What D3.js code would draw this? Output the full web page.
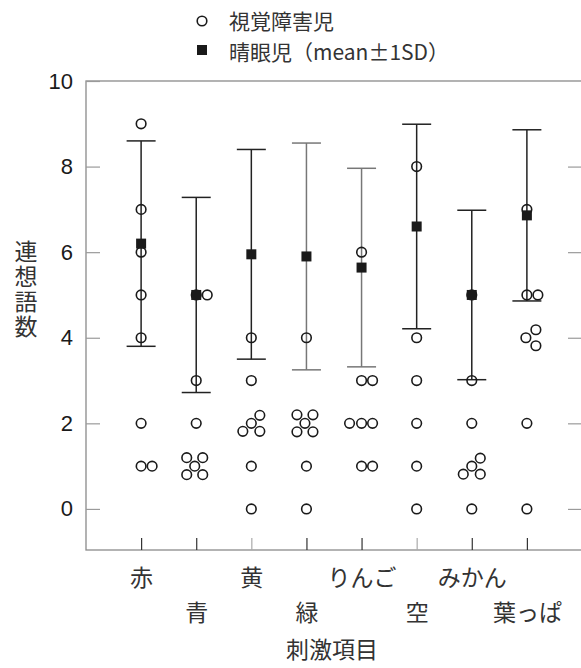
<!DOCTYPE html>
<html>
<head>
<meta charset="utf-8">
<script src="https://cdn.jsdelivr.net/npm/d3@7"></script>
<style>
  body { margin: 0; background: #fff; }
  svg { display: block; }
</style>
</head>
<body>
<svg id="chart" width="581" height="668"></svg>
<script>
const categories = ['赤', '青', '黄', '緑', 'りんご', '空', 'みかん', '葉っぱ'];

// 晴眼児 (mean ± 1SD)
const sightedMean = [6.2, 5.0, 5.95, 5.9, 5.64, 6.6, 5.0, 6.86];
const sightedSD = [2.4, 2.28, 2.45, 2.65, 2.32, 2.39, 1.98, 2.0];

// 視覚障害児 individual scores
const blindScores = [
    [9, 7, 6, 5, 4, 2, 1, 1],
    [5, 5, 3, 2, 1, 1, 1, 1, 1],
    [4, 3, 2, 2, 2, 2, 1, 0],
    [4, 2, 2, 2, 2, 2, 1, 0],
    [6, 3, 3, 2, 2, 2, 1, 1],
    [8, 4, 3, 2, 1, 0],
    [5, 3, 2, 1, 1, 1, 1, 0],
    [7, 5, 5, 4, 4, 4, 2, 0]
];

const yTicks = [0, 2, 4, 6, 8, 10];
const legendLabels = ['視覚障害児', '晴眼児（mean±1SD）'];

const font = '"Noto Sans CJK JP", "Noto Sans", sans-serif';
const numFont = '"Liberation Sans", Arial, sans-serif';

const svg = d3.select('#chart');

const plotLeft = 86, plotRight = 582, plotTop = 81, plotBottom = 550;

const x = d3.scalePoint()
    .domain(categories)
    .range([plotLeft, plotRight])
    .padding(1);

const y = d3.scaleLinear()
    .domain([-0.96, 10])
    .range([plotBottom, plotTop]);

// frame
svg.append('rect')
    .attr('x', plotLeft)
    .attr('y', plotTop)
    .attr('width', plotRight - plotLeft)
    .attr('height', plotBottom - plotTop)
    .attr('fill', 'none')
    .attr('stroke', '#8a8a8a')
    .attr('stroke-width', 1.3);

// y axis, ticks pointing inward
const yAxis = svg.append('g')
    .attr('transform', `translate(${plotLeft},0)`)
    .call(d3.axisLeft(y).tickValues(yTicks).tickSize(-14).tickPadding(13));
yAxis.select('.domain').remove();
yAxis.selectAll('line').attr('stroke', '#9a9a9a').attr('stroke-width', 1.2);
yAxis.selectAll('text')
    .style('font-family', numFont)
    .style('font-size', '22px')
    .attr('fill', '#1a1a1a');

const yRight = svg.append('g')
    .attr('transform', `translate(${plotRight - 1},0)`)
    .call(d3.axisRight(y).tickValues(yTicks.slice(0, 5)).tickSize(-13).tickFormat(''));
yRight.select('.domain').remove();
yRight.selectAll('line').attr('stroke', '#9a9a9a').attr('stroke-width', 1.2);

// x axis
const xAxis = svg.append('g')
    .attr('transform', `translate(0,${plotBottom})`)
    .call(d3.axisBottom(x).tickSize(-12).tickPadding(0));
xAxis.select('.domain').remove();
xAxis.selectAll('line')
    .attr('stroke', (d, i) => (i === 2 || i === 5) ? '#aaa' : '#333')
    .attr('stroke-width', 1.2);
xAxis.selectAll('text')
    .attr('y', (d, i) => i % 2 === 0 ? 28 : 63)
    .attr('dy', '0.35em')
    .style('font-family', font)
    .style('font-size', '23px')
    .attr('fill', '#333');

// axis titles
svg.append('text')
    .attr('x', 332)
    .attr('y', 648)
    .attr('text-anchor', 'middle')
    .attr('dominant-baseline', 'central')
    .style('font-family', font)
    .style('font-size', '23px')
    .attr('fill', '#333')
    .text('刺激項目');

svg.append('text')
    .attr('x', 26)
    .attr('y', 290)
    .attr('text-anchor', 'middle')
    .style('writing-mode', 'vertical-rl')
    .style('letter-spacing', '2px')
    .style('font-family', font)
    .style('font-size', '23px')
    .attr('fill', '#333')
    .text('連想語数');

// error bars
const barColor = ['#222', '#222', '#222', '#777', '#777', '#222', '#222', '#222'];
const capHalf = 14.5;

const bars = svg.append('g')
    .selectAll('g')
    .data(categories)
    .enter()
    .append('g')
    .attr('stroke', (c, i) => barColor[i])
    .attr('stroke-width', 1.5);

bars.append('line')
    .attr('x1', c => x(c)).attr('x2', c => x(c))
    .attr('y1', (c, i) => y(sightedMean[i] + sightedSD[i]))
    .attr('y2', (c, i) => y(sightedMean[i] - sightedSD[i]));
bars.append('line')
    .attr('x1', c => x(c) - capHalf).attr('x2', c => x(c) + capHalf)
    .attr('y1', (c, i) => y(sightedMean[i] + sightedSD[i]))
    .attr('y2', (c, i) => y(sightedMean[i] + sightedSD[i]));
bars.append('line')
    .attr('x1', c => x(c) - capHalf).attr('x2', c => x(c) + capHalf)
    .attr('y1', (c, i) => y(sightedMean[i] - sightedSD[i]))
    .attr('y2', (c, i) => y(sightedMean[i] - sightedSD[i]));

// cluster layouts for tied scores (pixel offsets)
const patterns = {
    1: [[0, 0]],
    2: [[0, 0], [11, 0]],
    3: [[-12, 0], [0, 0], [11, 0]],
    tri: [[-1, 0], [9, -8], [9, 8]],
    4: [[0, 0], [8.5, -8], [8.5, 8], [-8.5, 8]],
    5: [[-1.5, 0], [-9.5, -8.5], [6.5, -8.5], [-9.5, 8.5], [6.5, 8.5]]
};
const patternOverride = { '葉っぱ|4': 'tri' };

const points = [];
categories.forEach((c, i) => {
    const groups = d3.group(blindScores[i], v => v);
    groups.forEach((vals, v) => {
        const key = patternOverride[c + '|' + v] || vals.length;
        patterns[key].forEach(off => {
            points.push({ c: c, v: v, dx: off[0], dy: off[1] });
        });
    });
});

const r = 4.8;
svg.append('g')
    .selectAll('circle')
    .data(points)
    .enter()
    .append('circle')
    .attr('cx', d => x(d.c) + d.dx)
    .attr('cy', d => y(d.v) + d.dy)
    .attr('r', r)
    .attr('fill', 'none')
    .attr('stroke', '#1a1a1a')
    .attr('stroke-width', 1.6);

// means
const sq = 10;
svg.append('g')
    .selectAll('rect')
    .data(categories)
    .enter()
    .append('rect')
    .attr('x', c => x(c) - sq / 2)
    .attr('y', (c, i) => y(sightedMean[i]) - sq / 2)
    .attr('width', sq)
    .attr('height', sq)
    .attr('fill', '#1a1a1a');

// legend
const legendY = [20, 51];
const legend = svg.append('g');
legend.append('circle')
    .attr('cx', 202).attr('cy', legendY[0] + 1).attr('r', r)
    .attr('fill', 'none').attr('stroke', '#1a1a1a').attr('stroke-width', 1.6);
legend.append('rect')
    .attr('x', 202 - sq / 2).attr('y', legendY[1] - 1 - sq / 2)
    .attr('width', sq).attr('height', sq)
    .attr('fill', '#1a1a1a');
legend.selectAll('text')
    .data(legendLabels)
    .enter()
    .append('text')
    .attr('x', 229)
    .attr('y', (d, i) => legendY[i])
    .attr('dominant-baseline', 'central')
    .style('font-family', font)
    .style('font-size', '21px')
    .attr('fill', '#333')
    .text(d => d);
</script>
</body>
</html>
